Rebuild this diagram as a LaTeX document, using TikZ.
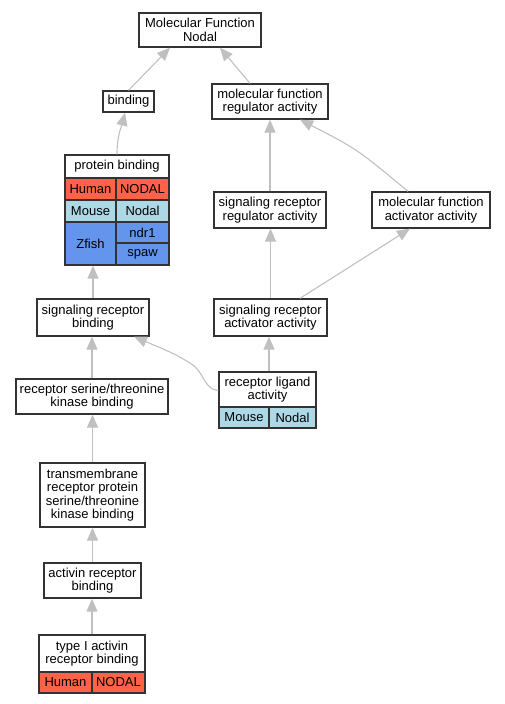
\documentclass[tikz,border=0pt]{standalone}
\usepackage{fontspec}
\setmainfont{Liberation Sans}
\usepackage{xcolor}
\usetikzlibrary{arrows.meta,positioning}

\definecolor{humanred}{HTML}{FF6347}
\definecolor{mouseblue}{HTML}{ADD8E6}
\definecolor{zfishblue}{HTML}{6495ED}
\definecolor{edgegray}{HTML}{C0C0C0}

\begin{document}
\begin{tikzpicture}[
        x=1pt, y=-1pt,
        font=\fontsize{13}{13.5}\selectfont,
        term/.style={draw=black!80, line width=1.3pt, fill=white, align=center, inner sep=0pt},
        cell/.style={draw=black!80, line width=1.3pt, align=center, inner sep=0pt},
        human/.style={cell, fill=humanred},
        mouse/.style={cell, fill=mouseblue},
        zfish/.style={cell, fill=zfishblue},
        isa/.style={draw=edgegray, line width=1.1pt, -{Triangle[length=13pt, width=11pt, fill=edgegray]}}
    ]
    \useasboundingbox (0,0) rectangle (504,704);

    % TOP TERMS
    \node[term, minimum width=122, minimum height=34] (mf) at (200,30) {Molecular Function\\ Nodal};
    \node[term, minimum width=51, minimum height=21] (binding) at (128.5,101.5) {binding};
    \node[term, minimum width=116, minimum height=35] (mfreg) at (270,101.5) {molecular function\\ regulator activity};

    % PROTEIN BINDING TABLE
    \node[term, minimum width=104, minimum height=23] (pbhead) at (117,166.5) {protein binding};
    \node[human, minimum width=51, minimum height=22] (pbhuman) at (90.5,189) {Human};
    \node[human, minimum width=53, minimum height=22] (pbnodalh) at (142.5,189) {NODAL};
    \node[mouse, minimum width=51, minimum height=22] (pbmouse) at (90.5,211) {Mouse};
    \node[mouse, minimum width=53, minimum height=22] (pbnodalm) at (142.5,211) {Nodal};
    \node[zfish, minimum width=51, minimum height=43] (pbzfish) at (90.5,243.5) {Zfish};
    \node[zfish, minimum width=53, minimum height=21] (pbndr) at (142.5,232.5) {ndr1};
    \node[zfish, minimum width=53, minimum height=22] (pbspaw) at (142.5,254) {spaw};

    % ACTIVITY TERMS
    \node[term, minimum width=112, minimum height=36] (srra) at (270,210) {signaling receptor\\ regulator activity};
    \node[term, minimum width=118, minimum height=36] (mfaa) at (431,210) {molecular function\\ activator activity};
    \node[term, minimum width=112, minimum height=37] (srb) at (93,317.5) {signaling receptor\\ binding};
    \node[term, minimum width=113, minimum height=37] (sraa) at (270.5,317.5) {signaling receptor\\ activator activity};

    % RECEPTOR LIGAND TABLE
    \node[term, minimum width=97, minimum height=35] (rlahead) at (267.5,389.5) {receptor ligand\\ activity};
    \node[mouse, minimum width=50, minimum height=21] (rlamouse) at (244,417.5) {Mouse};
    \node[mouse, minimum width=47, minimum height=21] (rlanodal) at (292.5,417.5) {Nodal};

    % BINDING CHAIN
    \node[term, minimum width=152, minimum height=35] (rstkb) at (92,396.5) {receptor serine/threonine\\ kinase binding};
    \node[term, minimum width=105, minimum height=64] (tm) at (92.5,495) {transmembrane\\ receptor protein\\ serine/threonine\\ kinase binding};
    \node[term, minimum width=97, minimum height=35] (arb) at (92.5,580.5) {activin receptor\\ binding};

    % TYPE I TABLE
    \node[term, minimum width=106, minimum height=37] (tihead) at (92,653.5) {type I activin\\ receptor binding};
    \node[human, minimum width=53, minimum height=21] (tihuman) at (65.5,682.5) {Human};
    \node[human, minimum width=53, minimum height=21] (tinodal) at (118.5,682.5) {NODAL};

    % IS-A EDGES
    \draw[isa] (binding.north) -- ([xshift=-30]mf.south);
    \draw[isa] ([xshift=-20]mfreg.north) -- ([xshift=20]mf.south);
    \draw[isa] (pbhead.north) .. controls (117,135) and (122,125) .. ([xshift=-3.5]binding.south);
    \draw[isa] (srra.north) -- (srra.north |- mfreg.south);
    \draw[isa] ([xshift=-23]mfaa.north) .. controls (357,149) .. ([xshift=30]mfreg.south);
    \draw[isa] (sraa.north) -- (sraa.north |- srra.south);
    \draw[isa] ([xshift=29.5]sraa.north) -- ([xshift=-21]mfaa.south);
    \draw[isa] (srb.north) -- (srb.north |- pbzfish.south);
    \draw[isa] ([xshift=1.5]rlahead.north) -- ([xshift=1.5]rlahead.north |- sraa.south);
    \draw[isa] ([yshift=-1]rlahead.west) .. controls (203,389) and (205,372) .. (190,363)
        .. controls (175,354) .. ([xshift=41]srb.south);
    \draw[isa] (rstkb.north) -- (rstkb.north |- srb.south);
    \draw[isa] (tm.north) -- (tm.north |- rstkb.south);
    \draw[isa] (arb.north) -- (arb.north |- tm.south);
    \draw[isa] (tihead.north) -- (tihead.north |- arb.south);

\end{tikzpicture}
\end{document}
